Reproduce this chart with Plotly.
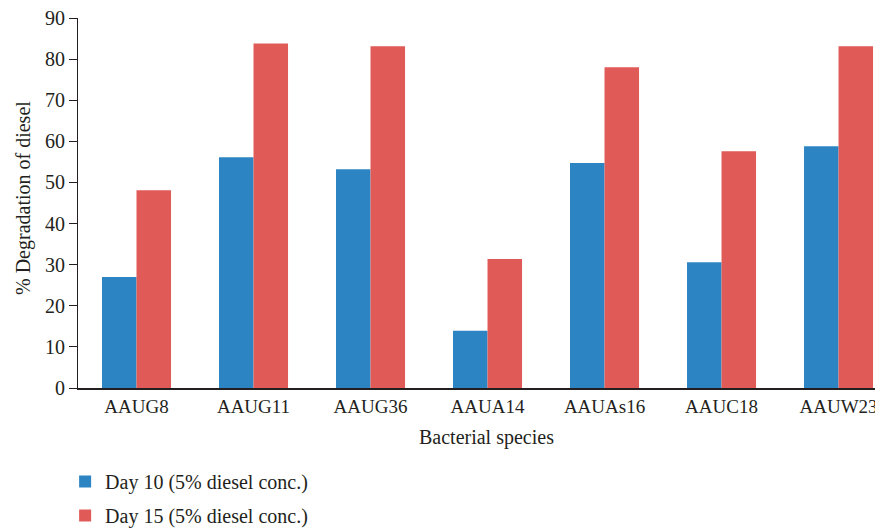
import plotly.graph_objects as go

categories = ["AAUG8", "AAUG11", "AAUG36", "AAUA14", "AAUAs16", "AAUC18", "AAUW23"]
day10 = [27.0, 56.1, 53.2, 13.9, 54.7, 30.6, 58.8]
day15 = [48.1, 83.8, 83.1, 31.4, 78.0, 57.6, 83.1]
series_names = ["Day 10 (5% diesel conc.)", "Day 15 (5% diesel conc.)"]
y_ticks = [0, 10, 20, 30, 40, 50, 60, 70, 80, 90]

FONT = "Liberation Serif, DejaVu Serif, serif"
INK = "#231f20"
FS = 20

fig = go.Figure()
fig.add_trace(go.Bar(x=categories, y=day10, name=series_names[0], legendgroup="a",
                     marker=dict(color="#2c84c2", line=dict(width=0))))
fig.add_trace(go.Bar(x=categories, y=day15, name=series_names[1], legendgroup="b",
                     marker=dict(color="#e05a57", line=dict(width=0))))

PW, PH = 805, 370
fig.update_layout(
    width=875, height=521,
    margin=dict(l=70, r=0, t=10, b=141, autoexpand=False),
    paper_bgcolor="white", plot_bgcolor="white",
    barmode="group", bargap=0.41, bargroupgap=0,
    font=dict(family=FONT, size=FS, color=INK),
    showlegend=True,
    legend=dict(x=-0.016, y=-0.2, xanchor="left", yanchor="top",
                orientation="v", font=dict(family=FONT, size=FS, color=INK),
                bgcolor="rgba(0,0,0,0)", tracegroupgap=5, traceorder="grouped"),
    xaxis=dict(range=[-0.5, 6.38], showline=True, linecolor=INK, linewidth=1.5,
               ticks="", showgrid=False, zeroline=False, automargin=False,
               ticklabeloverflow="allow", ticklabelstandoff=0,
               tickfont=dict(family=FONT, size=19, color=INK)),
    yaxis=dict(range=[0, 90], tickvals=y_ticks, showline=True, linecolor=INK,
               linewidth=1.2, ticks="outside", ticklen=8, tickcolor=INK,
               showgrid=False, zeroline=False, automargin=False,
               ticklabeloverflow="allow",
               tickfont=dict(family=FONT, size=FS, color=INK)),
    annotations=[
        dict(text="Bacterial species", xref="paper", yref="paper",
             x=(486 - 78) / PW, y=-(437 - 388) / PH, xanchor="center", yanchor="middle",
             showarrow=False, font=dict(family=FONT, size=FS, color=INK)),
        dict(text="% Degradation of diesel", xref="paper", yref="paper",
             x=-(78 - 23) / PW, y=(388 - 198) / PH, xanchor="center", yanchor="middle",
             textangle=-90, showarrow=False, font=dict(family=FONT, size=FS, color=INK)),
    ],
)

fig.write_html("out.html")
